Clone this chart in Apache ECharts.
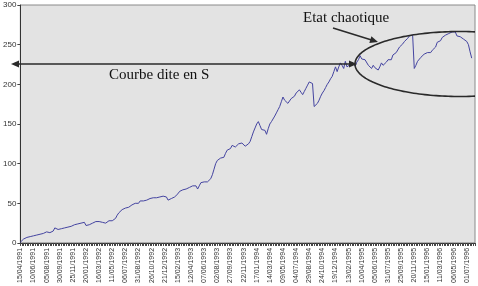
<!DOCTYPE html>
<html><head><meta charset="utf-8">
<script src="https://cdn.jsdelivr.net/npm/echarts@6/dist/echarts.min.js"></script>
<style>html,body{margin:0;padding:0;background:#fff}#c{width:478px;height:286px}</style>
</head><body><div id="c"></div>
<script>
// Weekly categories starting 15/04/1991 (labels every 8 weeks)
const startDate = [1991, 4, 15];
const weekCount = 278;
const yMin = 0, yMax = 300, yStep = 50;
const labelEvery = 8;

// Weekly values
const values = [
  1, 3, 5, 6, 7, 8, 8, 9, 9, 10,
  10, 11, 11, 11, 12, 12, 14, 14, 13, 13,
  15, 19, 18, 17, 17, 18, 18, 19, 19, 20,
  21, 21, 22, 23, 23, 24, 24, 25, 26, 26,
  22, 22, 23, 24, 25, 26, 27, 28, 27, 27,
  26, 25, 25, 27, 28, 29, 28, 28, 31, 35,
  38, 40, 42, 43, 44, 45, 45, 46, 48, 50,
  50, 50, 50, 53, 55, 53, 53, 54, 55, 56,
  56, 57, 57, 57, 58, 58, 58, 59, 60, 58,
  54, 55, 56, 57, 58, 60, 62, 65, 66, 67,
  68, 68, 69, 70, 71, 72, 74, 72, 68, 72,
  76, 77, 77, 77, 77, 78, 81, 86, 93, 100,
  104, 106, 107, 107, 108, 113, 117, 118, 119, 123,
  125, 121, 123, 125, 126, 126, 124, 122, 123, 125,
  128, 134, 140, 145, 150, 153, 148, 143, 142, 142,
  137, 144, 150, 153, 155, 160, 164, 168, 172, 178,
  184, 180, 178, 176, 178, 182, 180, 185, 189, 191,
  193, 190, 187, 191, 195, 199, 203, 205, 201, 172,
  173, 176, 180, 185, 189, 192, 196, 200, 203, 207,
  210, 216, 222, 216, 222, 227, 224, 220, 229, 222,
  224, 225, 228, 226, 223, 228, 231, 236, 232, 233,
  231, 229, 224, 225, 220, 224, 221, 222, 218, 222,
  227, 224, 222, 228, 231, 229, 231, 237, 236, 240,
  242, 247, 249, 251, 254, 256, 258, 261, 260, 262,
  220, 224, 229, 231, 234, 236, 238, 239, 240, 239,
  240, 243, 245, 247, 253, 252, 255, 259, 260, 262,
  263, 264, 265, 266, 268, 266, 261, 260, 260, 258,
  257, 256, 254, 250, 241, 233
];

const annotationLabels = ['Courbe dite en S', 'Etat chaotique'];

function pad(n){ return (n < 10 ? '0' : '') + n; }
const categories = [];
for (let i = 0; i < weekCount; i++) {
  const d = new Date(Date.UTC(startDate[0], startDate[1] - 1, startDate[2] + 7 * i));
  categories.push(pad(d.getUTCDate()) + '/' + pad(d.getUTCMonth() + 1) + '/' + d.getUTCFullYear());
}

const chart = echarts.init(document.getElementById('c'), null, {renderer: 'canvas'});

// ellipse outline (annotation), clipped at the plot's right border
const ell = {cx: 460, cy: 64, a: 105, b: 32.5, clipX: 475};
const ellPts = [];
const t0 = Math.acos((ell.clipX - ell.cx) / ell.a);
for (let k = 0; k <= 120; k++) {
  const t = t0 + (2 * Math.PI - 2 * t0) * k / 120;
  ellPts.push([ell.cx + ell.a * Math.cos(t), ell.cy + ell.b * Math.sin(t)]);
}

function arrowHead(tip, from, len, half) {
  const dx = tip[0] - from[0], dy = tip[1] - from[1];
  const L = Math.sqrt(dx * dx + dy * dy), ux = dx / L, uy = dy / L;
  const bx = tip[0] - ux * len, by = tip[1] - uy * len;
  return [tip, [bx - uy * half, by + ux * half], [bx + uy * half, by - ux * half]];
}

const annColor = '#2a2a2a';
const hLeft = [11, 64], hRight = [357, 64];
const dFrom = [333, 28], dTip = [378, 42];

chart.setOption({
  animation: false,
  grid: {left: 17, top: 5, right: 3, bottom: 43, show: true, backgroundColor: '#e3e3e3', borderColor: '#8a8a8a', borderWidth: 1},
  xAxis: {
    type: 'category', data: categories, boundaryGap: false,
    axisLine: {lineStyle: {color: '#333', width: 1}},
    axisTick: {show: true, interval: 0, length: 3, lineStyle: {color: '#444'}},
    axisLabel: {interval: labelEvery - 1, rotate: 90, fontSize: 7, color: '#333', fontFamily: 'Liberation Sans, Arial', margin: 5}
  },
  yAxis: {
    type: 'value', min: yMin, max: yMax, interval: yStep,
    axisLine: {show: true, lineStyle: {color: '#333', width: 1}},
    axisTick: {show: true, length: 3, lineStyle: {color: '#444'}},
    splitLine: {show: false},
    axisLabel: {fontSize: 8, color: '#333', fontFamily: 'Liberation Sans, Arial', margin: 4}
  },
  series: [{
    type: 'line', data: values, showSymbol: false, symbol: 'none',
    lineStyle: {color: '#4444a0', width: 1}
  }],
  graphic: [
    {type: 'polyline', shape: {points: ellPts}, style: {stroke: annColor, lineWidth: 1.6, fill: null}, z: 100},
    {type: 'line', shape: {x1: hLeft[0] + 4, y1: hLeft[1], x2: hRight[0] - 4, y2: hRight[1]}, style: {stroke: annColor, lineWidth: 1.6}, z: 100},
    {type: 'polygon', shape: {points: arrowHead(hLeft, hRight, 8, 3.5)}, style: {fill: annColor}, z: 100},
    {type: 'polygon', shape: {points: arrowHead(hRight, hLeft, 8, 3.5)}, style: {fill: annColor}, z: 100},
    {type: 'line', shape: {x1: dFrom[0], y1: dFrom[1], x2: dTip[0] - 4, y2: dTip[1] - 1.3}, style: {stroke: annColor, lineWidth: 1.6}, z: 100},
    {type: 'polygon', shape: {points: arrowHead(dTip, dFrom, 8, 3.5)}, style: {fill: annColor}, z: 100},
    {type: 'text', x: 109, y: 75, style: {text: annotationLabels[0], font: '15px "Liberation Serif", "Times New Roman", serif', fill: '#111', verticalAlign: 'middle', align: 'left'}, z: 100},
    {type: 'text', x: 303, y: 18, style: {text: annotationLabels[1], font: '15px "Liberation Serif", "Times New Roman", serif', fill: '#111', verticalAlign: 'middle', align: 'left'}, z: 100}
  ]
});
</script>
</body></html>
